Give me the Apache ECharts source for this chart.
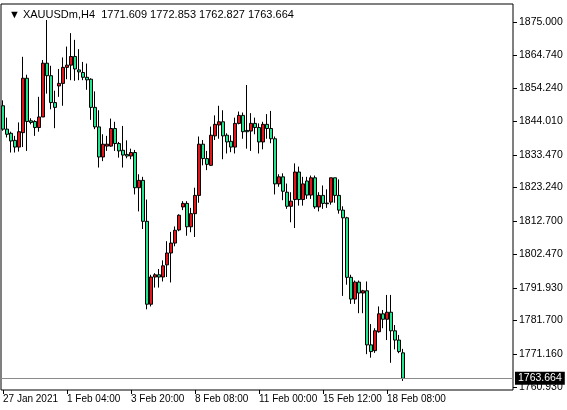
<!DOCTYPE html>
<html><head><meta charset="utf-8">
<script src="https://cdn.jsdelivr.net/npm/echarts@6/dist/echarts.min.js"></script>
<style>html,body{margin:0;padding:0;background:#fff}#c{width:567px;height:410px}</style>
</head><body><div id="c"></div>
<script>
const title = "XAUUSDm,H4  1771.609 1772.853 1762.827 1763.664";
const openV = [1848.8,1841.5,1840.2,1838.0,1835.9,1840.4,1857.4,1844.1,1843.9,1842.0,1845.3,1862.1,1858.2,1849.8,1855.0,1855.8,1860.8,1861.5,1864.2,1860.0,
1859.2,1857.7,1857.1,1848.3,1842.2,1832.8,1836.2,1836.2,1841.7,1837.0,1834.9,1833.6,1833.1,1834.2,1823.2,1825.5,1812.7,1786.8,1795.3,1796.0,
1795.3,1799.1,1802.8,1805.9,1810.0,1817.2,1818.3,1811.0,1815.1,1820.8,1836.8,1832.3,1830.2,1839.4,1842.8,1843.8,1839.6,1837.7,1835.9,1843.3,
1845.8,1841.1,1840.9,1843.3,1842.0,1837.5,1843.0,1841.7,1838.5,1824.4,1826.6,1821.8,1817.4,1819.5,1828.1,1819.5,1825.3,1820.9,1826.3,1817.2,
1820.8,1818.4,1818.7,1826.3,1820.8,1816.2,1813.8,1795.2,1788.4,1793.7,1790.3,1791.0,1774.1,1772.3,1778.2,1783.8,1782.1,1784.3,1778.5,1775.6,
1771.609];
const closeV = [1841.5,1839.9,1837.8,1835.9,1840.7,1857.4,1843.9,1843.6,1842.0,1845.3,1862.1,1858.2,1849.8,1848.3,1855.8,1860.8,1861.5,1864.2,1860.3,1859.4,
1857.7,1856.9,1848.3,1842.2,1832.8,1836.8,1836.8,1841.7,1837.0,1834.7,1833.4,1833.1,1834.2,1823.2,1825.5,1812.7,1786.8,1795.3,1796.0,1795.3,
1798.8,1802.8,1805.9,1809.9,1814.6,1818.3,1811.0,1815.1,1820.8,1836.8,1832.3,1830.5,1839.6,1843.0,1843.8,1839.4,1837.5,1835.9,1843.3,1845.8,
1840.7,1840.7,1843.3,1842.0,1837.5,1843.0,1841.7,1838.5,1824.4,1826.6,1822.1,1817.4,1819.0,1828.1,1819.5,1824.4,1820.9,1826.3,1817.2,1820.8,
1818.3,1818.2,1826.3,1820.8,1816.2,1813.8,1795.2,1788.4,1793.7,1790.3,1791.0,1774.1,1772.0,1778.5,1783.8,1782.1,1784.3,1778.5,1775.6,1772.0,
1763.664];
const lowV = [1841.0,1838.9,1834.2,1834.2,1834.5,1835.9,1834.7,1843.0,1839.4,1840.7,1845.3,1852.6,1847.7,1841.8,1851.6,1848.8,1857.1,1856.8,1856.6,1856.8,
1856.8,1853.8,1844.4,1841.5,1829.5,1831.5,1834.7,1836.0,1834.7,1832.6,1829.5,1832.4,1832.1,1821.1,1815.8,1810.3,1785.2,1786.1,1792.0,1792.0,
1793.9,1795.3,1793.6,1804.9,1809.6,1816.2,1808.2,1809.3,1807.8,1818.5,1830.2,1828.7,1830.0,1838.1,1838.5,1832.1,1833.9,1834.3,1833.9,1843.0,
1838.5,1835.4,1834.7,1839.9,1833.9,1835.2,1838.5,1837.1,1821.1,1823.5,1819.3,1816.6,1812.4,1810.6,1817.6,1817.6,1819.7,1819.7,1816.6,1815.8,
1816.6,1816.9,1817.9,1818.5,1815.1,1789.4,1792.9,1786.9,1786.9,1784.0,1784.0,1771.2,1770.1,1771.6,1777.9,1779.3,1775.6,1768.5,1772.7,1771.5,
1762.827];
const highV = [1850.5,1845.1,1840.7,1839.4,1843.6,1864.1,1858.5,1844.9,1844.3,1851.6,1863.1,1875.6,1861.3,1853.5,1860.3,1863.9,1867.3,1871.5,1869.4,1866.5,
1862.5,1862.0,1857.4,1853.3,1847.4,1839.9,1839.4,1844.8,1843.8,1837.5,1842.5,1838.0,1835.4,1835.0,1827.4,1826.6,1819.5,1796.0,1796.5,1797.8,
1800.5,1806.5,1809.4,1811.1,1814.9,1819.0,1819.0,1816.9,1823.2,1839.2,1838.1,1834.7,1842.3,1845.8,1848.8,1847.4,1840.2,1839.6,1845.1,1847.0,
1846.7,1855.3,1846.5,1845.1,1843.3,1843.8,1846.2,1847.2,1839.2,1827.4,1827.7,1824.5,1821.8,1830.8,1829.8,1826.6,1826.6,1827.0,1827.0,1821.8,
1823.9,1822.7,1826.3,1826.3,1825.8,1817.4,1814.1,1796.0,1794.2,1794.2,1791.3,1793.9,1780.6,1779.3,1786.1,1785.0,1789.7,1789.7,1780.3,1777.2,
1772.853];
const timeTickIdx = [0,16,32,48,64,80,96];
const timeTickText = ["27 Jan 2021","1 Feb 04:00","3 Feb 20:00","8 Feb 08:00","11 Feb 00:00","15 Feb 12:00","18 Feb 08:00"];
const priceTicks = [1875.000,1864.740,1854.240,1844.010,1833.470,1823.240,1812.700,1802.470,1791.930,1781.700,1771.160,1760.930];
const lastPrice = 1763.664;

const totalSlots = 128;
const cats = [];
for (let i = 0; i < totalSlots; i++) cats.push(String(i));
const candle = openV.map((o, i) => [o, closeV[i], lowV[i], highV[i]]);
const labelMap = {};
timeTickIdx.forEach((k, j) => labelMap[k] = timeTickText[j]);
const font = "Liberation Sans";

const chart = echarts.init(document.getElementById('c'), null, {renderer: 'canvas'});
chart.setOption({
  animation: false,
  textStyle: {fontFamily: font},
  title: {text: '▼ ' + title, left: 4, top: 4, textStyle: {fontSize: 11, fontWeight: 'normal', color: '#000', fontFamily: font}},
  grid: {left: 1, right: 54, top: 4, bottom: 20, show: true, borderColor: '#000', borderWidth: 1, backgroundColor: '#fff'},
  xAxis: {
    type: 'category', data: cats, boundaryGap: true,
    axisLine: {show: false},
    axisTick: {show: true, length: 4, lineStyle: {color: '#000'}, interval: (i) => labelMap[i] !== undefined, alignWithLabel: true},
    axisLabel: {interval: (i) => labelMap[i] !== undefined, formatter: (v, i) => labelMap[i] || '', align: 'left', margin: 4, hideOverlap: false, color: '#000', fontSize: 10, fontFamily: font}
  },
  yAxis: {
    type: 'value', position: 'right', min: 1760.0, max: 1880.6, scale: true,
    splitLine: {show: false},
    axisLine: {show: false},
    axisTick: {show: true, length: 4, lineStyle: {color: '#000'}, customValues: priceTicks},
    axisLabel: {customValues: priceTicks, formatter: (v) => v.toFixed(3), color: '#000', fontSize: 10.5, margin: 6, fontFamily: font}
  },
  series: [{
    type: 'candlestick', data: candle, barWidth: 3,
    itemStyle: {color: '#e3151b', color0: '#21e58f', borderColor: '#000', borderColor0: '#000', borderWidth: 1},
    markLine: {
      symbol: 'none', silent: true,
      lineStyle: {color: '#8a8a8a', type: 'solid', width: 1},
      label: {show: true, position: 'end', formatter: lastPrice.toFixed(3), backgroundColor: '#000', color: '#fff', padding: [1, 3], fontSize: 10.5, fontFamily: font, distance: 2},
      data: [{yAxis: lastPrice}]
    }
  }]
});
</script></body></html>
